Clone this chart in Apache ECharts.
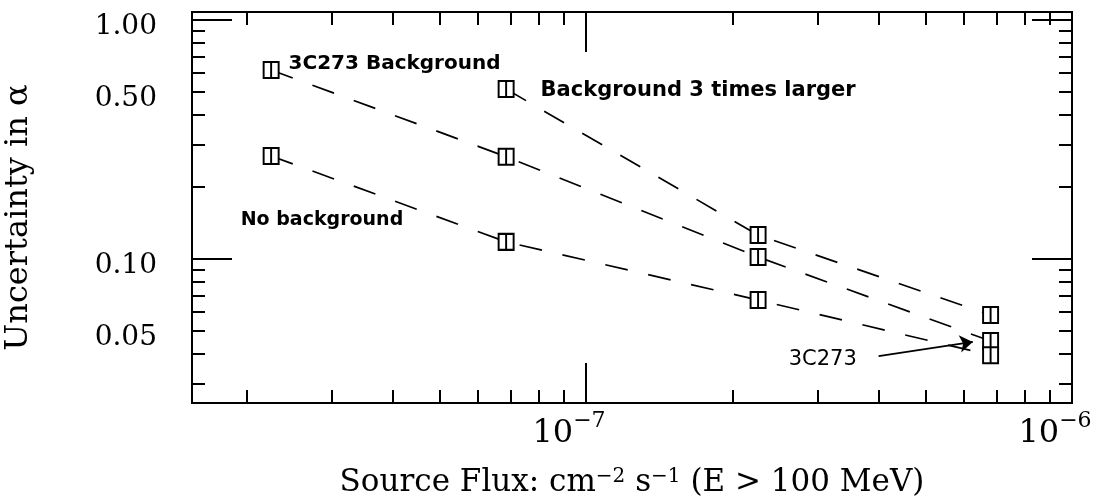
<!DOCTYPE html>
<html>
<head>
<meta charset="utf-8">
<script src="https://cdn.jsdelivr.net/npm/echarts@6/dist/echarts.min.js"></script>
<style>
  html, body { margin: 0; padding: 0; background: #fff; }
  #chart { width: 1109px; height: 504px; }
</style>
</head>
<body>
<div id="chart"></div>
<script>
// source flux, cm^-2 s^-1 (E > 100 MeV)
var fluxAll = [2.25e-8, 6.85e-8, 2.26e-7, 6.8e-7];
var fluxLarge = [6.85e-8, 2.26e-7, 6.8e-7];

// uncertainty in alpha
var uncBg3x = [0.514, 0.126, 0.0583];          // background 3 times larger
var uncBg = [0.618, 0.268, 0.102, 0.0454];     // 3C273 background
var uncNoBg = [0.270, 0.118, 0.0674, 0.0396];  // no background

// axes
var xRange = [1.5465e-8, 1e-6];
var yRange = [0.025, 1.08];
var xMinorTicks = [2e-8, 3e-8, 4e-8, 5e-8, 6e-8, 7e-8, 8e-8, 9e-8,
                   2e-7, 3e-7, 4e-7, 5e-7, 6e-7, 7e-7, 8e-7, 9e-7];
var xMajorTicks = [1e-7];
var xTickLabels = [1e-7, 1e-6];
var yMinorTicks = [0.03, 0.04, 0.05, 0.06, 0.07, 0.08, 0.09,
                   0.2, 0.3, 0.4, 0.5, 0.6, 0.7, 0.8, 0.9];
var yMajorTicks = [0.1, 1];
var yTickLabels = [1.00, 0.50, 0.10, 0.05];

var serif = 'DejaVu Serif';
var sans = 'DejaVu Sans';

function lg(v) { return Math.log10(v); }
function pairs(xs, ys) {
  return xs.map(function (x, i) { return [x, ys[i]]; });
}

// helper axes in log10 space, only used to draw ticks and labels
function tickAxis(dim, pos, ticks, len, labels) {
  var range = dim === 'x' ? xRange : yRange;
  var ax = {
    type: 'value',
    position: pos,
    min: lg(range[0]),
    max: lg(range[1]),
    axisLine: { show: false, onZero: false },
    splitLine: { show: false },
    axisTick: {
      show: true, inside: true, length: len,
      customValues: ticks.map(lg),
      lineStyle: { color: '#000', width: 2 }
    },
    axisLabel: { show: false }
  };
  if (labels) {
    ax.axisLabel = {
      show: true,
      customValues: labels.map(lg),
      color: '#000',
      fontFamily: serif
    };
  }
  return ax;
}

var xLabAxis = tickAxis('x', 'bottom', xMajorTicks, 40, xTickLabels);
xLabAxis.axisLabel.margin = 7;
xLabAxis.axisLabel.padding = [0, 34, 0, 0];
xLabAxis.axisLabel.formatter = function (v) {
  return '{b|10}{s|\u2212' + Math.abs(Math.round(v)) + '}';
};
xLabAxis.axisLabel.rich = {
  b: { fontFamily: serif, fontSize: 32, color: '#000', verticalAlign: 'bottom', lineHeight: 40 },
  s: { fontFamily: serif, fontSize: 22, color: '#000', verticalAlign: 'top', lineHeight: 22 }
};
xLabAxis.name = 'Source Flux: cm{s|\u22122} s{s|\u22121} (E > 100 MeV)';
xLabAxis.nameLocation = 'middle';
xLabAxis.nameGap = 64;
xLabAxis.nameTextStyle = {
  fontFamily: serif, fontSize: 31, color: '#000',
  rich: {
    s: { fontFamily: serif, fontSize: 20, color: '#000', verticalAlign: 'top', lineHeight: 16 }
  }
};

var yLabAxis = tickAxis('y', 'left', yMajorTicks, 40, yTickLabels);
yLabAxis.axisLabel.margin = 35;
yLabAxis.axisLabel.fontSize = 28;
yLabAxis.axisLabel.verticalAlign = 'top';
yLabAxis.axisLabel.lineHeight = 14;
yLabAxis.axisLabel.formatter = function (v) { return Math.pow(10, v).toFixed(2); };
yLabAxis.name = 'Uncertainty in \u03b1';
yLabAxis.nameLocation = 'middle';
yLabAxis.nameGap = 157;
yLabAxis.nameTextStyle = { fontFamily: serif, fontSize: 32, color: '#000', padding: [0, 20, 0, 0] };

var boxSymbol = 'path://M0,0L10,0L10,10L0,10Z M5,0L5,10';
var labelFont = { fontFamily: sans, fontWeight: 'bold', color: '#000' };

function lineSeries(name, data) {
  return {
    name: name,
    type: 'line',
    xAxisIndex: 0,
    yAxisIndex: 0,
    data: data,
    symbol: boxSymbol,
    symbolSize: [15, 16],
    showAllSymbol: true,
    itemStyle: { color: '#fff', borderColor: '#000', borderWidth: 2 },
    lineStyle: { color: '#000', width: 1.7, type: [23, 21] },
    emphasis: { disabled: true },
    z: 3
  };
}

var dBg3x = pairs(fluxLarge, uncBg3x);
var dBg = pairs(fluxAll, uncBg);
var dNoBg = pairs(fluxAll, uncNoBg);

dBg3x[0] = { value: dBg3x[0], label: Object.assign({
  show: true, position: 'right', offset: [21, 1], fontSize: 21,
  formatter: 'Background 3 times larger' }, labelFont) };
dBg[0] = { value: dBg[0], label: Object.assign({
  show: true, position: 'right', offset: [4, -6], fontSize: 20,
  formatter: '3C273 Background' }, labelFont) };
dNoBg[0] = { value: dNoBg[0], label: Object.assign({
  show: true, position: [-22, 73], align: 'left', verticalAlign: 'middle', fontSize: 19,
  formatter: 'No background' }, labelFont) };

var sBg = lineSeries('3C273 Background', dBg);
sBg.markLine = {
  silent: true,
  animation: false,
  symbol: ['none', 'arrow'],
  symbolSize: 13,
  lineStyle: { color: '#000', width: 1.8, type: 'solid' },
  label: {
    show: true, position: 'start', distance: 22, formatter: '3C273',
    fontFamily: sans, fontSize: 21, color: '#000'
  },
  data: [[{ coord: [4.0e-7, 0.0393] }, { coord: [6.25e-7, 0.045] }]]
};

var option = {
  animation: false,
  backgroundColor: '#fff',
  grid: {
    left: 192, right: 37, top: 12, bottom: 101,
    outerBoundsMode: 'none',
    containLabel: false,
    show: true, borderColor: '#000', borderWidth: 2, backgroundColor: 'transparent'
  },
  xAxis: [
    { type: 'log', logBase: 10, min: xRange[0], max: xRange[1], show: false,
      axisLine: { onZero: false }, splitLine: { show: false } },
    tickAxis('x', 'bottom', xMinorTicks, 13),
    xLabAxis,
    tickAxis('x', 'top', xMinorTicks, 13),
    tickAxis('x', 'top', xMajorTicks, 40)
  ],
  yAxis: [
    { type: 'log', logBase: 10, min: yRange[0], max: yRange[1], show: false,
      axisLine: { onZero: false }, splitLine: { show: false } },
    tickAxis('y', 'left', yMinorTicks, 13),
    yLabAxis,
    tickAxis('y', 'right', yMinorTicks, 13),
    tickAxis('y', 'right', yMajorTicks, 40)
  ],
  series: [
    lineSeries('Background 3 times larger', dBg3x),
    sBg,
    lineSeries('No background', dNoBg)
  ]
};

var chart = echarts.init(document.getElementById('chart'));
chart.setOption(option);
</script>
</body>
</html>
